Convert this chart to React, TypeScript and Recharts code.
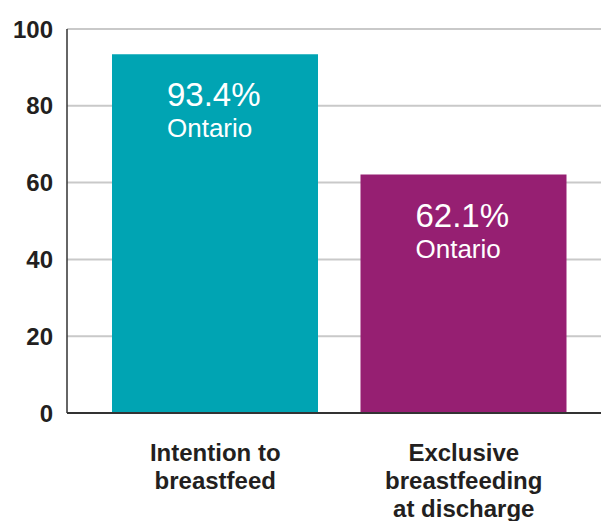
import React from "react";
import { BarChart, Bar, XAxis, YAxis, CartesianGrid, Cell, LabelList } from "recharts";

const categories = ["Intention to\nbreastfeed", "Exclusive\nbreastfeeding\nat discharge"];
const values = [93.4, 62.1];
const region = "Ontario";
const colors = ["#00A4B3", "#961F72"];
const yTicks = [0, 20, 40, 60, 80, 100];

const data = categories.map((c, i) => ({ name: c, value: values[i] }));

const FONT = "'Liberation Sans', Arial, Helvetica, sans-serif";

const XTick = (props: any) => {
  const { x, y, payload } = props;
  const lines = String(payload.value).split("\n");
  return (
    <g>
      {lines.map((l: string, i: number) => (
        <text
          key={i}
          x={x}
          y={y + 40 + i * 28}
          textAnchor="middle"
          fontFamily={FONT}
          fontWeight="bold"
          fontSize={24}
          fill="#231f20"
        >
          {l}
        </text>
      ))}
    </g>
  );
};

const YTick = (props: any) => {
  const { y, payload } = props;
  return (
    <text
      x={53}
      y={y + 8.5}
      textAnchor="end"
      fontFamily={FONT}
      fontWeight="bold"
      fontSize={24}
      fill="#231f20"
    >
      {payload.value}
    </text>
  );
};

const BarLabel = (props: any) => {
  const { x, y, width, value } = props;
  const lx = x + width / 2 - 48;
  return (
    <g>
      <text x={lx} y={y + 52} textAnchor="start" fontFamily={FONT} fontSize={33} fill="#ffffff">
        {value.toFixed(1) + "%"}
      </text>
      <text x={lx} y={y + 83} textAnchor="start" fontFamily={FONT} fontSize={26} fill="#ffffff">
        {region}
      </text>
    </g>
  );
};

export default function App() {
  return (
    <div style={{ position: "absolute", left: 0, top: 0, width: 601, height: 521, background: "#fff" }}>
      <BarChart
        width={601}
        height={521}
        data={data}
        margin={{ top: 29, right: 0, bottom: 0, left: 0 }}
        barCategoryGap={0}
      >
        <CartesianGrid vertical={false} stroke="#c9c9c9" strokeWidth={2} />
        <XAxis
          dataKey="name"
          height={108}
          tickLine={false}
          axisLine={{ stroke: "#333333", strokeWidth: 2 }}
          tick={<XTick />}
          padding={{ left: 24, right: 13 }}
          interval={0}
        />
        <YAxis
          width={67}
          domain={[0, 100]}
          ticks={yTicks}
          tickLine={false}
          axisLine={{ stroke: "#333333", strokeWidth: 1.5 }}
          tick={<YTick />}
          interval={0}
        />
        <Bar dataKey="value" barSize={206} isAnimationActive={false}>
          {data.map((d, i) => (
            <Cell key={i} fill={colors[i]} />
          ))}
          <LabelList dataKey="value" content={<BarLabel />} />
        </Bar>
      </BarChart>
    </div>
  );
}
